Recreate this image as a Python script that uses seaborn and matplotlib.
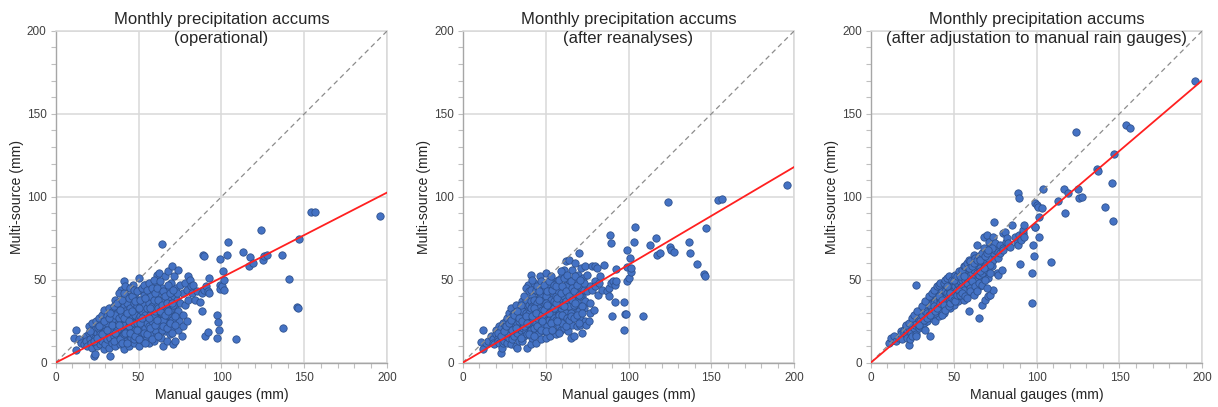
import pandas as pd
import matplotlib
matplotlib.use('Agg')
import matplotlib.pyplot as plt
from matplotlib.ticker import MultipleLocator
import seaborn as sns

# DATA (mm)
# manual rain gauge monthly totals (shared by the three panels)
manual = [
    12, 11, 12.5, 14, 15, 17, 18, 18.5, 19, 20,
    20, 21, 21.5, 22, 22, 22.5, 23, 23.5, 23, 24,
    24, 24.5, 25, 25, 25.5, 26, 26, 26.5, 27, 27,
    27.5, 28, 28, 28.5, 29, 29, 29.5, 30, 30, 30.5,
    31, 31, 31.5, 32, 32, 32.5, 33, 33, 33.5, 34,
    34, 34.5, 35, 35, 35.5, 36, 36, 36.5, 37, 37,
    37.5, 38, 38, 38.5, 39, 39, 39.5, 40, 40, 40.5,
    41, 41, 41.5, 42, 42, 42.5, 43, 43, 43.5, 44,
    44, 44.5, 45, 45, 45.5, 46, 46, 46.5, 47, 47,
    47.5, 48, 48, 48.5, 49, 49, 49.5, 50, 50, 50.5,
    51, 51, 51.5, 52, 52, 52.5, 53, 53, 53.5, 54,
    54, 54.5, 55, 55, 55.5, 56, 56, 56.5, 57, 57,
    57.5, 58, 58, 58.5, 59, 59, 59.5, 60, 60, 60.5,
    61, 61, 61.5, 62, 62, 62.5, 63, 63, 63.5, 64,
    64, 64.5, 65, 65, 65.5, 66, 66, 66.5, 67, 67,
    67.5, 68, 68, 68.5, 69, 69, 69.5, 70, 70, 70.5,
    71, 71, 71.5, 72, 72, 72.5, 73, 73, 73.5, 74,
    74, 74.5, 75, 75, 76, 76.5, 77, 77, 78, 78,
    79, 79.5, 80, 80, 81, 81.5, 82, 83, 84, 85,
    87, 88, 88.5, 89, 89.3, 89.5, 90, 90.5, 91.8, 92,
    92.4, 92.6, 97, 97.5, 98, 98.5, 99, 99, 99.2, 100.5,
    101, 101.3, 101.5, 103.3, 104, 108.5, 113, 116.8, 117.2, 119,
    123.8, 125, 125.5, 127.5, 136.6, 136.8, 141, 145.7, 145.9, 146.5,
    154, 156.4, 195.6, 27, 28, 30, 31, 33, 34, 35,
    36, 37, 38, 39, 40, 40, 41, 41, 42, 42,
    43, 43, 44, 44, 45, 45, 46, 46, 47, 47,
    48, 48, 49, 49, 50, 50, 51, 51, 52, 52,
    53, 53, 54, 54, 55, 55, 56, 56, 57, 57,
    58, 58, 59, 60, 60, 61, 62, 62, 63, 64,
    64, 65, 66, 67, 68, 69, 70, 71, 72, 73,
    21, 23, 25, 26, 28, 29, 31, 32, 33, 34,
    35, 36, 37, 38, 38, 39, 40, 40, 41, 41,
    42, 42, 43, 43, 44, 44, 45, 45, 46, 46,
    47, 47, 48, 48, 49, 49, 50, 50, 51, 51,
    52, 52, 53, 53, 54, 54, 55, 55, 56, 56,
    57, 57, 58, 58, 59, 59, 60, 60, 61, 61,
    62, 62, 63, 63, 64, 64, 65, 65, 66, 66,
    67, 67, 68, 68, 69, 69, 70, 70, 71, 72,
]

# multi-source estimate, operational
operational = [
    20, 15, 7.5, 14, 12, 11, 16, 13, 10, 18,
    22, 14, 12, 24, 9, 17, 4, 5.5, 20, 15,
    12, 25, 18, 10, 21, 14, 27, 19, 11, 23,
    16, 29, 13, 20, 8, 32, 17, 25, 11, 21,
    14, 28, 18, 33, 9, 23, 15, 4, 27, 19,
    12, 31, 22, 16, 38, 26, 10, 20, 30, 14,
    24, 35, 18, 11, 28, 22, 44, 16, 32, 25,
    49, 8, 20, 37, 13, 28, 45, 23, 17, 33,
    10, 27, 40, 21, 15, 35, 25, 47, 19, 30,
    12, 42, 24, 33, 16, 28, 38, 51, 21, 10,
    31, 44, 25, 18, 36, 13, 29, 41, 22, 33,
    47, 16, 27, 38, 20, 43, 30, 12, 24, 35,
    46, 18, 28, 40, 22, 33, 13, 48, 26, 37,
    17, 53, 30, 21, 42, 54, 27, 35, 15, 71.5,
    45, 24, 32, 10, 38, 19, 52, 28, 41, 13,
    34, 55, 24, 44, 17, 37, 48, 58, 29, 11,
    40, 21, 52, 33, 13, 45, 27, 38, 56, 20,
    31, 25, 36, 47, 16, 29, 42, 22, 35, 48,
    25, 44, 52, 38, 50, 46, 42, 47, 38, 43,
    36.7, 31, 42, 65, 64, 44, 16, 46, 18.7, 43,
    51, 41.8, 15, 28.7, 24.7, 19.7, 62.7, 47, 44.6, 46,
    55, 50, 44, 65, 73, 14, 67, 58.5, 63.5, 60,
    80, 62, 64.5, 65, 64.9, 20.7, 50.4, 33.7, 32.7, 74.5,
    91, 90.6, 88.6, 17, 22, 19, 24, 20, 26, 13,
    29, 20, 27, 14, 22, 29, 17, 34, 23, 31,
    19, 36, 22, 29, 26, 33, 18, 29, 24, 36,
    20, 29, 24, 34, 27, 37, 19, 28, 23, 31,
    26, 35, 21, 29, 24, 33, 22, 36, 29, 40,
    25, 34, 28, 31, 20, 36, 26, 33, 22, 30,
    38, 26, 34, 29, 38, 32, 26, 35, 28, 42,
    19, 13, 15, 22, 17, 25, 20, 27, 30, 23,
    34, 18, 36, 23, 42, 32, 38, 12, 27, 42,
    18, 46, 30, 12, 39, 25, 45, 18, 31, 40,
    14, 44, 37, 16, 43, 20, 33, 14, 38, 24,
    45, 27, 18, 47, 39, 12, 44, 17, 27, 48,
    21, 33, 45, 14, 38, 50, 23, 42, 26, 45,
    16, 38, 31, 49, 20, 35, 43, 22, 40, 29,
    36, 21, 31, 47, 24, 42, 36, 18, 44, 23,
]

# multi-source estimate, after reanalyses
reanalysed = [
    19.5, 12.5, 8.5, 12, 13, 16, 14, 12, 11, 20,
    17, 15, 13, 22, 12, 19, 6, 9, 21, 14,
    12, 24, 18, 13, 23, 16, 25, 20, 12, 27,
    17, 30, 15, 23, 11, 33, 19, 28, 14, 22,
    16, 30, 20, 35, 10, 25, 18, 9, 28, 22,
    13, 31, 24, 20, 37, 28, 13, 21, 33, 16,
    26, 38, 19, 9, 31, 23, 47, 18, 35, 27,
    53, 11, 22, 40, 15, 30, 48, 26, 19, 35,
    12, 29, 43, 24, 17, 39, 28, 52, 21, 33,
    14, 45, 27, 36, 19, 31, 41, 54, 24, 15,
    34, 47, 28, 21, 39, 16, 32, 44, 26, 37,
    50, 19, 30, 41, 24, 48, 33, 17, 28, 39,
    50, 22, 32, 45, 27, 38, 20, 52, 30, 41,
    21, 56, 35, 25, 47, 61, 31, 40, 19, 62,
    50, 28, 38, 15, 43, 23, 56, 33, 46, 16,
    40, 60, 30, 50, 22, 42, 53, 66, 35, 23,
    46, 27, 57, 40, 18, 51, 33, 44, 58, 25,
    37, 23, 43, 53, 25, 36, 46, 30, 44, 58,
    32, 49, 58, 46, 57, 41, 48, 52, 44, 59,
    43, 40, 45, 76.7, 72.3, 48, 28.3, 49, 36.5, 47,
    56.4, 49, 19.7, 36.7, 29.3, 29.5, 68, 57.8, 49, 51,
    63.2, 54.4, 57, 72.5, 82, 28, 70.7, 75, 65, 66,
    96.6, 70, 68, 66.5, 72.9, 65.9, 59.2, 53.2, 52.4, 81.3,
    98, 98.6, 107, 18, 21, 20, 26, 24, 25, 15,
    31, 22, 30, 17, 24, 30, 20, 37, 25, 34,
    21, 38, 24, 31, 27, 36, 21, 33, 27, 40,
    23, 32, 27, 38, 30, 40, 22, 31, 26, 34,
    30, 38, 25, 33, 27, 37, 26, 40, 33, 44,
    29, 38, 33, 35, 24, 40, 30, 37, 27, 34,
    42, 30, 38, 35, 42, 37, 31, 40, 34, 48,
    18, 16, 19, 22, 24, 26, 29, 21, 31, 27,
    35, 25, 40, 28, 45, 24, 43, 17, 33, 44,
    28, 50, 33, 16, 44, 30, 46, 22, 38, 43,
    20, 49, 29, 25, 47, 32, 36, 19, 43, 35,
    49, 30, 24, 52, 44, 20, 47, 33, 36, 46,
    25, 39, 50, 18, 42, 55, 29, 46, 34, 51,
    22, 43, 27, 53, 26, 40, 49, 28, 45, 38,
    43, 27, 36, 52, 29, 47, 41, 24, 50, 30,
]

# multi-source estimate, after adjustation to manual rain gauges
adjusted = [
    13, 12, 15, 16, 13, 15, 19, 17, 14, 20,
    18, 22, 17, 20, 15, 23, 10.7, 14, 21, 19,
    18, 24, 22, 16, 25, 21, 26, 23, 17, 47,
    16, 28, 24, 26, 21, 30, 25, 27, 22, 31,
    26, 33, 28, 35, 24, 30, 27, 20, 34, 29,
    25, 36, 32, 28, 37, 33, 16, 30, 36, 27,
    34, 39, 31, 25, 37, 33, 41, 30, 38, 35,
    43, 28, 34, 40, 31, 37, 45, 36, 33, 42,
    30, 39, 44, 36, 34, 43, 40, 47, 37, 41,
    33, 46, 39, 44, 36, 42, 47, 52, 40, 35,
    45, 49, 43, 39, 47, 37, 46, 50, 42, 48,
    53, 40, 45, 51, 43, 54, 47, 38, 45, 50,
    56, 42, 49, 53, 46, 52, 31, 58, 49, 55,
    44, 62, 51, 47, 57, 65, 50, 55, 45, 71,
    60, 48, 56, 27, 58, 46, 64, 52, 61, 35,
    57, 76, 53, 66, 38, 60, 63, 77, 55, 40,
    62, 51, 73, 60, 41, 70, 58, 66, 76, 44,
    62, 85, 68, 72, 54, 63, 67, 53, 66, 71,
    56, 69, 78, 68, 79, 73, 75, 72, 70, 83,
    76, 72, 71, 102, 99, 77, 59.4, 74, 78, 80,
    83, 76, 36.1, 53.8, 71, 64, 96, 82, 81.7, 95,
    94, 87.7, 75.7, 93, 104.8, 60.4, 97.2, 104.8, 90, 102.4,
    138.8, 104.8, 99.2, 99.6, 117, 115.7, 94, 108, 85.5, 126,
    143.2, 141.6, 169.7, 24, 27, 25, 29, 31, 30, 29,
    35, 31, 36, 30, 35, 37, 32, 42, 38, 39,
    35, 43, 37, 40, 39, 43, 36, 42, 41, 45,
    38, 44, 43, 46, 44, 47, 41, 46, 44, 48,
    47, 51, 45, 49, 46, 50, 44, 52, 50, 55,
    48, 53, 51, 53, 45, 54, 51, 56, 49, 54,
    59, 53, 57, 54, 60, 58, 56, 63, 59, 69,
    23, 24, 27, 29, 31, 23, 34, 26, 37, 27,
    40, 29, 42, 34, 44, 31, 46, 33, 40, 47,
    36, 48, 38, 29, 48, 35, 50, 32, 46, 51,
    34, 52, 36, 42, 50, 39, 50, 38, 53, 37,
    52, 41, 43, 55, 52, 41, 56, 42, 52, 58,
    40, 58, 60, 39, 57, 62, 43, 61, 49, 58,
    41, 60, 46, 63, 43, 62, 64, 48, 55, 62,
    66, 47, 57, 69, 50, 64, 66, 45, 68, 54,
]

series = ['operational', 'reanalysed', 'adjusted']
titles = [
    'Monthly precipitation accums\n(operational)',
    'Monthly precipitation accums\n(after reanalyses)',
    'Monthly precipitation accums\n(after adjustation to manual rain gauges)',
]
# slope of the trend line (through the origin) of each panel
slopes = [0.513, 0.59, 0.851]

df = pd.DataFrame({'manual': manual, 'operational': operational,
                   'reanalysed': reanalysed, 'adjusted': adjusted})

sns.set_style('whitegrid')
plt.rcParams['font.family'] = ['Liberation Sans', 'DejaVu Sans']

fig = plt.figure(figsize=(12.18, 4.07), dpi=100)
lefts = [0.0457, 0.3799, 0.7149]

for i, col in enumerate(series):
    ax = fig.add_axes([lefts[i], 0.1088, 0.2723, 0.8157])
    sns.scatterplot(data=df, x='manual', y=col, ax=ax, color='#4472C4',
                    edgecolor='#2F528F', linewidth=0.6, s=28, zorder=2)
    # 1:1 line and trend line
    ax.plot([0, 200], [0, 200], color='#8c8c8c', linestyle=(0, (4, 3)),
            linewidth=0.9, zorder=3)
    ax.plot([0, 200], [0, 200 * slopes[i]], color='#ff2020', linewidth=1.3,
            zorder=4)

    ax.set_xlim(0, 200)
    ax.set_ylim(0, 200)
    ax.xaxis.set_major_locator(MultipleLocator(50))
    ax.yaxis.set_major_locator(MultipleLocator(50))
    ax.xaxis.set_minor_locator(MultipleLocator(10))
    ax.yaxis.set_minor_locator(MultipleLocator(10))
    ax.grid(True, which='major', color='#d9d9d9', linewidth=1.1)
    ax.grid(False, which='minor')
    ax.tick_params(which='both', direction='out', length=3.5, width=0.8,
                   color='#bfbfbf', labelsize=8.5, labelcolor='#404040',
                   left=True, bottom=True, pad=3)
    for side in ['left', 'bottom']:
        ax.spines[side].set_color('#a6a6a6')
        ax.spines[side].set_linewidth(1.0)
    for side in ['top', 'right']:
        ax.spines[side].set_color('#d9d9d9')
        ax.spines[side].set_linewidth(1.1)

    ax.set_xlabel('Manual gauges (mm)', fontsize=10.2, color='#262626', labelpad=3)
    ax.set_ylabel('Multi-source (mm)', fontsize=10.2, color='#262626', labelpad=2)
    ax.text(0.5, 1.056, titles[i], transform=ax.transAxes, ha='center',
            va='top', fontsize=12, color='#262626', linespacing=1.32)

plt.savefig('out.png', dpi=100)
